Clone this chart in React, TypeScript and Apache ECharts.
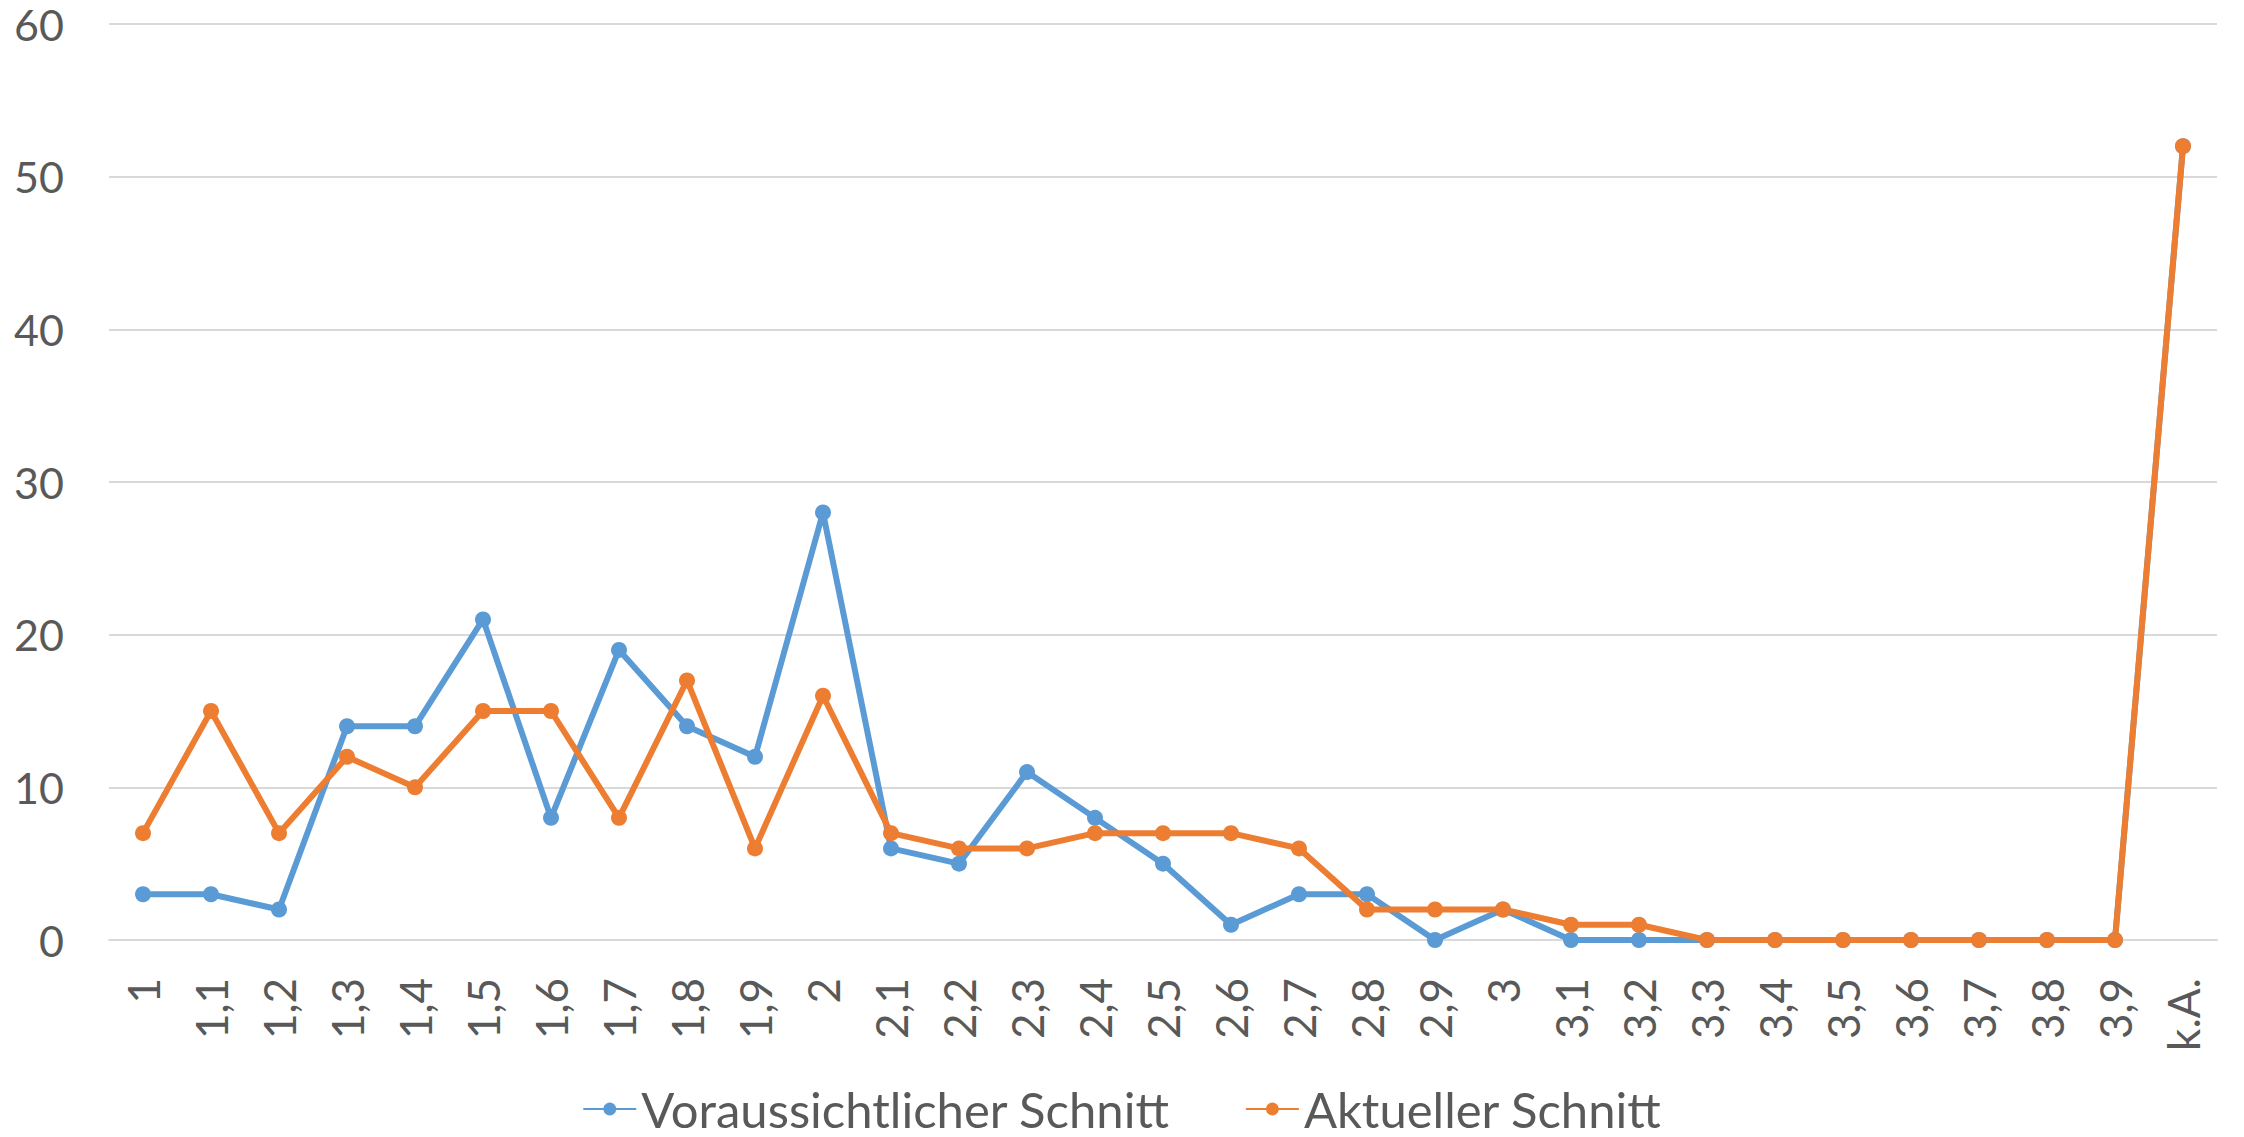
import React, { useEffect, useRef } from "react";
import * as echarts from "echarts";

const categories = [
  "1", "1,1", "1,2", "1,3", "1,4", "1,5", "1,6", "1,7", "1,8", "1,9",
  "2", "2,1", "2,2", "2,3", "2,4", "2,5", "2,6", "2,7", "2,8", "2,9",
  "3", "3,1", "3,2", "3,3", "3,4", "3,5", "3,6", "3,7", "3,8", "3,9",
  "k.A.",
];

const voraussichtlich = [
  3, 3, 2, 14, 14, 21, 8, 19, 14, 12,
  28, 6, 5, 11, 8, 5, 1, 3, 3, 0,
  2, 0, 0, 0, 0, 0, 0, 0, 0, 0,
  52,
];

const aktuell = [
  7, 15, 7, 12, 10, 15, 15, 8, 17, 6,
  16, 7, 6, 6, 7, 7, 7, 6, 2, 2,
  2, 1, 1, 0, 0, 0, 0, 0, 0, 0,
  52,
];

const seriesNames = ["Voraussichtlicher Schnitt", "Aktueller Schnitt"];
const yTicks = { min: 0, max: 60, interval: 10 };

const FONT = "Lato";
const TEXT = "#595959";

export default function App() {
  const ref = useRef<HTMLDivElement>(null);
  useEffect(() => {
    if (!ref.current) return;
    const chart = echarts.init(ref.current, undefined, { renderer: "svg" });
    chart.setOption({
      animation: false,
      backgroundColor: "#ffffff",
      textStyle: { fontFamily: FONT, color: TEXT },
      grid: { left: 109, right: 27, top: 24, bottom: 197, containLabel: false },
      legend: {
        top: 1084,
        left: "center",
        padding: 0,
        itemWidth: 53,
        itemHeight: 16,
        itemGap: 75,
        textStyle: { fontFamily: FONT, fontSize: 49, lineHeight: 50, color: TEXT },
        data: seriesNames,
      },
      xAxis: {
        type: "category",
        data: categories,
        boundaryGap: true,
        axisLine: { show: true, lineStyle: { color: "#D9D9D9", width: 2 } },
        axisTick: { show: false },
        axisLabel: {
          rotate: 90,
          interval: 0,
          margin: 38,
          fontFamily: FONT,
          fontSize: 44,
          color: TEXT,
        },
      },
      yAxis: {
        type: "value",
        min: yTicks.min,
        max: yTicks.max,
        interval: yTicks.interval,
        axisLine: { show: false },
        axisTick: { show: false },
        splitLine: { lineStyle: { color: "#D9D9D9", width: 2 } },
        axisLabel: { margin: 45, fontFamily: FONT, fontSize: 43, color: TEXT },
      },
      series: [
        {
          name: seriesNames[0],
          type: "line",
          data: voraussichtlich,
          symbol: "circle",
          symbolSize: 16,
          lineStyle: { width: 6, color: "#5B9BD5" },
          itemStyle: { color: "#5B9BD5" },
        },
        {
          name: seriesNames[1],
          type: "line",
          data: aktuell,
          symbol: "circle",
          symbolSize: 16,
          lineStyle: { width: 6, color: "#ED7D31" },
          itemStyle: { color: "#ED7D31" },
        },
      ],
    });
    return () => chart.dispose();
  }, []);
  return (
    <div
      ref={ref}
      style={{ position: "absolute", left: 0, top: 0, width: 2244, height: 1137 }}
    />
  );
}
